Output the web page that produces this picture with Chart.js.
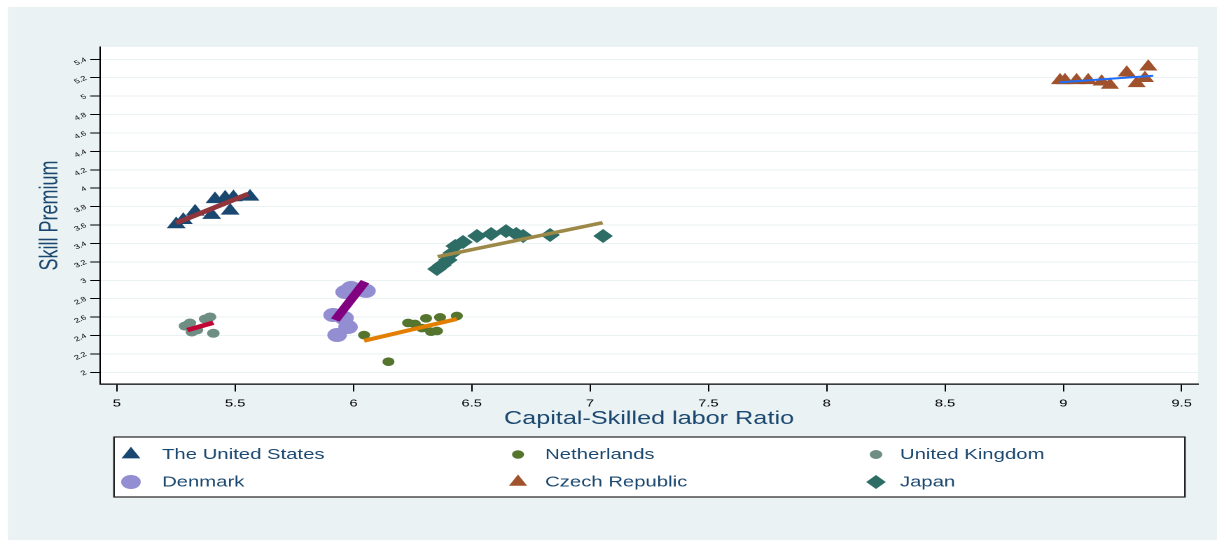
<!DOCTYPE html>
<html>
<head>
<meta charset="utf-8">
<script src="https://cdn.jsdelivr.net/npm/chart.js@4/dist/chart.umd.min.js"></script>
<style>
  html, body { margin: 0; padding: 0; background: #fff; overflow: hidden; }
  /* the figure is laid out at 869px and widened to the full 1217px page */
  #wrap { position: absolute; left: 0; top: 0; width: 869px; height: 540px;
          transform: scaleX(1.40046); transform-origin: 0 0; }
  canvas { display: block; width: 869px; height: 540px; }
</style>
</head>
<body>
<div id="wrap"><canvas id="c" width="869" height="540"></canvas></div>
<script>
// ---- data -------------------------------------------------------------
const countries = ['The United States', 'Netherlands', 'United Kingdom', 'Denmark', 'Czech Republic', 'Japan'];

const usX = [5.251, 5.281, 5.331, 5.401, 5.415, 5.458, 5.479, 5.493, 5.563];
const usY = [3.608, 3.654, 3.745, 3.709, 3.880, 3.897, 3.755, 3.901, 3.907];
const usFitX = [5.251, 5.555];
const usFitY = [3.622, 3.937];

const nlX = [6.045, 6.148, 6.231, 6.260, 6.290, 6.307, 6.328, 6.353, 6.366, 6.437];
const nlY = [2.405, 2.115, 2.536, 2.525, 2.481, 2.587, 2.441, 2.449, 2.597, 2.612];
const nlFitX = [6.045, 6.437];
const nlFitY = [2.343, 2.579];

const ukX = [5.288, 5.309, 5.317, 5.339, 5.373, 5.394, 5.408];
const ukY = [2.503, 2.535, 2.438, 2.460, 2.579, 2.601, 2.424];
const ukFitX = [5.298, 5.408];
const ukFitY = [2.459, 2.539];

const dkX = [5.914, 5.931, 5.960, 5.977, 5.965, 5.990, 6.016, 6.053];
const dkY = [2.622, 2.405, 2.590, 2.492, 2.872, 2.916, 2.895, 2.884];
const dkFitX = [5.923, 6.049];
const dkFitY = [2.568, 2.984];

const czX = [8.986, 9.007, 9.056, 9.105, 9.162, 9.197, 9.268, 9.310, 9.345, 9.359];
const czY = [5.172, 5.172, 5.172, 5.172, 5.157, 5.121, 5.254, 5.139, 5.194, 5.320];
const czFitX = [8.983, 9.380];
const czFitY = [5.150, 5.222];

const jpX = [6.353, 6.374, 6.399, 6.417, 6.430, 6.463, 6.522, 6.582, 6.645, 6.688, 6.717, 6.831, 7.055];
const jpY = [3.122, 3.165, 3.220, 3.296, 3.372, 3.415, 3.481, 3.502, 3.534, 3.502, 3.481, 3.492, 3.481];
const jpFitX = [6.356, 7.053];
const jpFitY = [3.256, 3.625];

const xTicks = [5, 5.5, 6, 6.5, 7, 7.5, 8, 8.5, 9, 9.5];
const xTickLabels = ['5', '5.5', '6', '6.5', '7', '7.5', '8', '8.5', '9', '9.5'];
const yTicks = [2, 2.2, 2.4, 2.6, 2.8, 3, 3.2, 3.4, 3.6, 3.8, 4, 4.2, 4.4, 4.6, 4.8, 5, 5.2, 5.4];
const yTickLabels = ['2', '2.2', '2.4', '2.6', '2.8', '3', '3.2', '3.4', '3.6', '3.8', '4', '4.2', '4.4', '4.6', '4.8', '5', '5.2', '5.4'];

// ---- styling ----------------------------------------------------------
const FONT = "'Liberation Sans', Arial, Helvetica, sans-serif";
const NAVY = '#1a476f';
const PANEL = '#eaf2f3';
const W = 869, H = 540;

const zip = (xs, ys) => xs.map((x, i) => ({ x, y: ys[i] }));

let seq = 0;
function markers(label, xs, ys, color, style, radius, slot) {
  seq++;
  return {
    label, legendSlot: slot, data: zip(xs, ys), showLine: false,
    pointStyle: style, pointRadius: radius, pointHoverRadius: radius,
    backgroundColor: color, pointBackgroundColor: color, borderColor: color,
    pointBorderWidth: 0, order: 50 - seq
  };
}
function fitLine(xs, ys, color, width) {
  seq++;
  return {
    label: '', data: zip(xs, ys), showLine: true, pointRadius: 0, pointHoverRadius: 0,
    borderColor: color, backgroundColor: color, borderWidth: width,
    borderCapStyle: 'butt', tension: 0, fill: false, order: 50 - seq
  };
}

const datasets = [
  markers(countries[0], usX, usY, '#1a476f', 'triangle', 7.8, 0),
  fitLine(usFitX, usFitY, '#90353b', 4.5),
  markers(countries[2], ukX, ukY, '#6e8e84', 'circle', 4.5, 2),
  fitLine(ukFitX, ukFitY, '#c10534', 4.5),
  markers(countries[3], dkX, dkY, '#938dd2', 'circle', 7, 3),
  fitLine(dkFitX, dkFitY, '#800080', 7),
  markers(countries[1], nlX, nlY, '#55752f', 'circle', 4.3, 1),
  fitLine(nlFitX, nlFitY, '#e37e00', 4),
  markers(countries[4], czX, czY, '#a0522d', 'triangle', 7.5, 4),
  fitLine(czFitX, czFitY, '#1f6fff', 2),
  markers(countries[5], jpX, jpY, '#2d6d66', 'rectRot', 7, 5),
  fitLine(jpFitX, jpFitY, '#9c8847', 3.5)
];

// light graph region with a white plot region on top
const backdrop = {
  id: 'backdrop',
  beforeDraw(chart) {
    const { ctx, chartArea: a } = chart;
    ctx.save();
    ctx.fillStyle = '#fff';
    ctx.fillRect(0, 0, W, H);
    ctx.fillStyle = PANEL;
    ctx.fillRect(5.7, 7, W - 5.7, H - 7);
    ctx.fillStyle = '#fff';
    ctx.fillRect(a.left, a.top, a.right - a.left, a.bottom - a.top);
    ctx.restore();
  }
};

// boxed three-column key below the axis
const boxedKey = {
  id: 'boxedKey',
  afterDraw(chart) {
    const ctx = chart.ctx;
    const box = { x: 81.4, y: 437, w: 764.7, h: 60 };
    const markerX = [93.5, 369.9, 625.5];
    const textX = [115.7, 389.2, 642.6];
    const rowY = [454.5, 482];
    ctx.save();
    ctx.fillStyle = '#fff';
    ctx.fillRect(box.x, box.y, box.w, box.h);
    ctx.strokeStyle = '#222';
    ctx.lineWidth = 1.2;
    ctx.strokeRect(box.x, box.y, box.w, box.h);
    chart.data.datasets.forEach(d => {
      if (d.legendSlot === undefined) return;
      const col = d.legendSlot % 3, row = Math.floor(d.legendSlot / 3);
      const y = rowY[row];
      ctx.fillStyle = d.backgroundColor;
      ctx.strokeStyle = d.backgroundColor;
      Chart.helpers.drawPoint(ctx, { pointStyle: d.pointStyle, radius: d.pointRadius, rotation: 0, borderWidth: 0 }, markerX[col], y);
      ctx.fillStyle = NAVY;
      ctx.font = '14.5px ' + FONT;
      ctx.textAlign = 'left';
      ctx.textBaseline = 'middle';
      ctx.fillText(d.label, textX[col], y + 0.5);
    });
    ctx.restore();
  }
};

new Chart(document.getElementById('c'), {
  type: 'scatter',
  data: { datasets },
  plugins: [backdrop, boxedKey],
  options: {
    responsive: false,
    maintainAspectRatio: false,
    devicePixelRatio: 2,
    animation: false,
    events: [],
    layout: { padding: { left: 0, top: 47, right: 13.6, bottom: 101 } },
    plugins: { legend: { display: false }, tooltip: { enabled: false } },
    scales: {
      x: {
        type: 'linear', min: 4.929, max: 9.569,
        afterBuildTicks: s => { s.ticks = xTicks.map(v => ({ value: v })); },
        afterFit: s => { s.height = 55; },
        ticks: {
          autoSkip: false, maxRotation: 0, minRotation: 0, padding: 6,
          color: '#000', font: { family: FONT, size: 10.5 },
          callback: (v, i) => xTickLabels[i]
        },
        grid: { drawOnChartArea: false, drawTicks: true, tickLength: 7.5, tickColor: '#000', tickWidth: 1 },
        border: { display: true, color: '#000', width: 1.2 },
        title: {
          display: true, text: 'Capital-Skilled labor Ratio', color: NAVY,
          font: { family: FONT, size: 18 }, padding: { top: 0, bottom: 9 }
        }
      },
      y: {
        type: 'linear', min: 1.873, max: 5.534,
        afterBuildTicks: s => { s.ticks = yTicks.map(v => ({ value: v })); },
        afterFit: s => { s.width = 71.4; },
        ticks: {
          autoSkip: false, minRotation: 30, maxRotation: 30, padding: 3,
          color: '#000', font: { family: FONT, size: 6.5 },
          callback: (v, i) => yTickLabels[i]
        },
        grid: { color: PANEL, lineWidth: 1, drawTicks: true, tickLength: 7, tickColor: '#000', tickWidth: 1 },
        border: { display: true, color: '#000', width: 1 },
        title: {
          display: true, text: 'Skill Premium', color: NAVY,
          font: { family: FONT, size: 18 }, padding: { top: 25, bottom: 0 }
        }
      }
    }
  }
});
</script>
</body>
</html>
